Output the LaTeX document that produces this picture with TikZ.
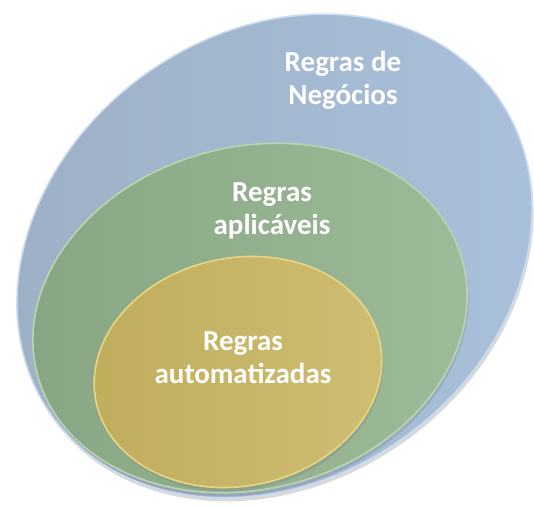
\documentclass[tikz,border=0pt]{standalone}
\usepackage{fontspec}
\setmainfont{Carlito}
\usetikzlibrary{shadows}

\definecolor{negA}{HTML}{9DAFC4}
\definecolor{negB}{HTML}{AAC1DC}
\definecolor{negrim}{HTML}{C9DBF0}
\definecolor{aplA}{HTML}{87A483}
\definecolor{aplB}{HTML}{9EBC9A}
\definecolor{aplrim}{HTML}{BAD4B3}
\definecolor{autA}{HTML}{BFAD5C}
\definecolor{autB}{HTML}{CFBE72}
\definecolor{autrim}{HTML}{E8D684}

\begin{document}
\begin{tikzpicture}[x=1pt,y=1pt,
  rule/.style={line width=1.6pt, drop shadow={opacity=0.3, shadow xshift=1.5pt, shadow yshift=-3.5pt}},
  lbl/.style={text=white, align=center, font=\fontsize{29}{33}\selectfont\bfseries}]
\useasboundingbox (0,0) rectangle (534,507);
% conjuntos de regras
\draw[rule, draw=negrim, left color=negA, right color=negB] (274.5,251) ellipse [x radius=274, y radius=223, rotate=36];
\draw[rule, draw=aplrim, left color=aplA, right color=aplB] (250,189) ellipse [x radius=220, y radius=171, rotate=15];
\draw[rule, draw=autrim, left color=autA, right color=autB] (238,135) ellipse [x radius=145, y radius=114, rotate=12];
% textos
\node[lbl] (negocios) at (343,427) {Regras de\\Negócios};
\node[lbl] (aplicaveis) at (272,296) {Regras\\aplicáveis};
\node[lbl] (automatizadas) at (243,149) {Regras\\automatizadas};
\end{tikzpicture}
\end{document}
